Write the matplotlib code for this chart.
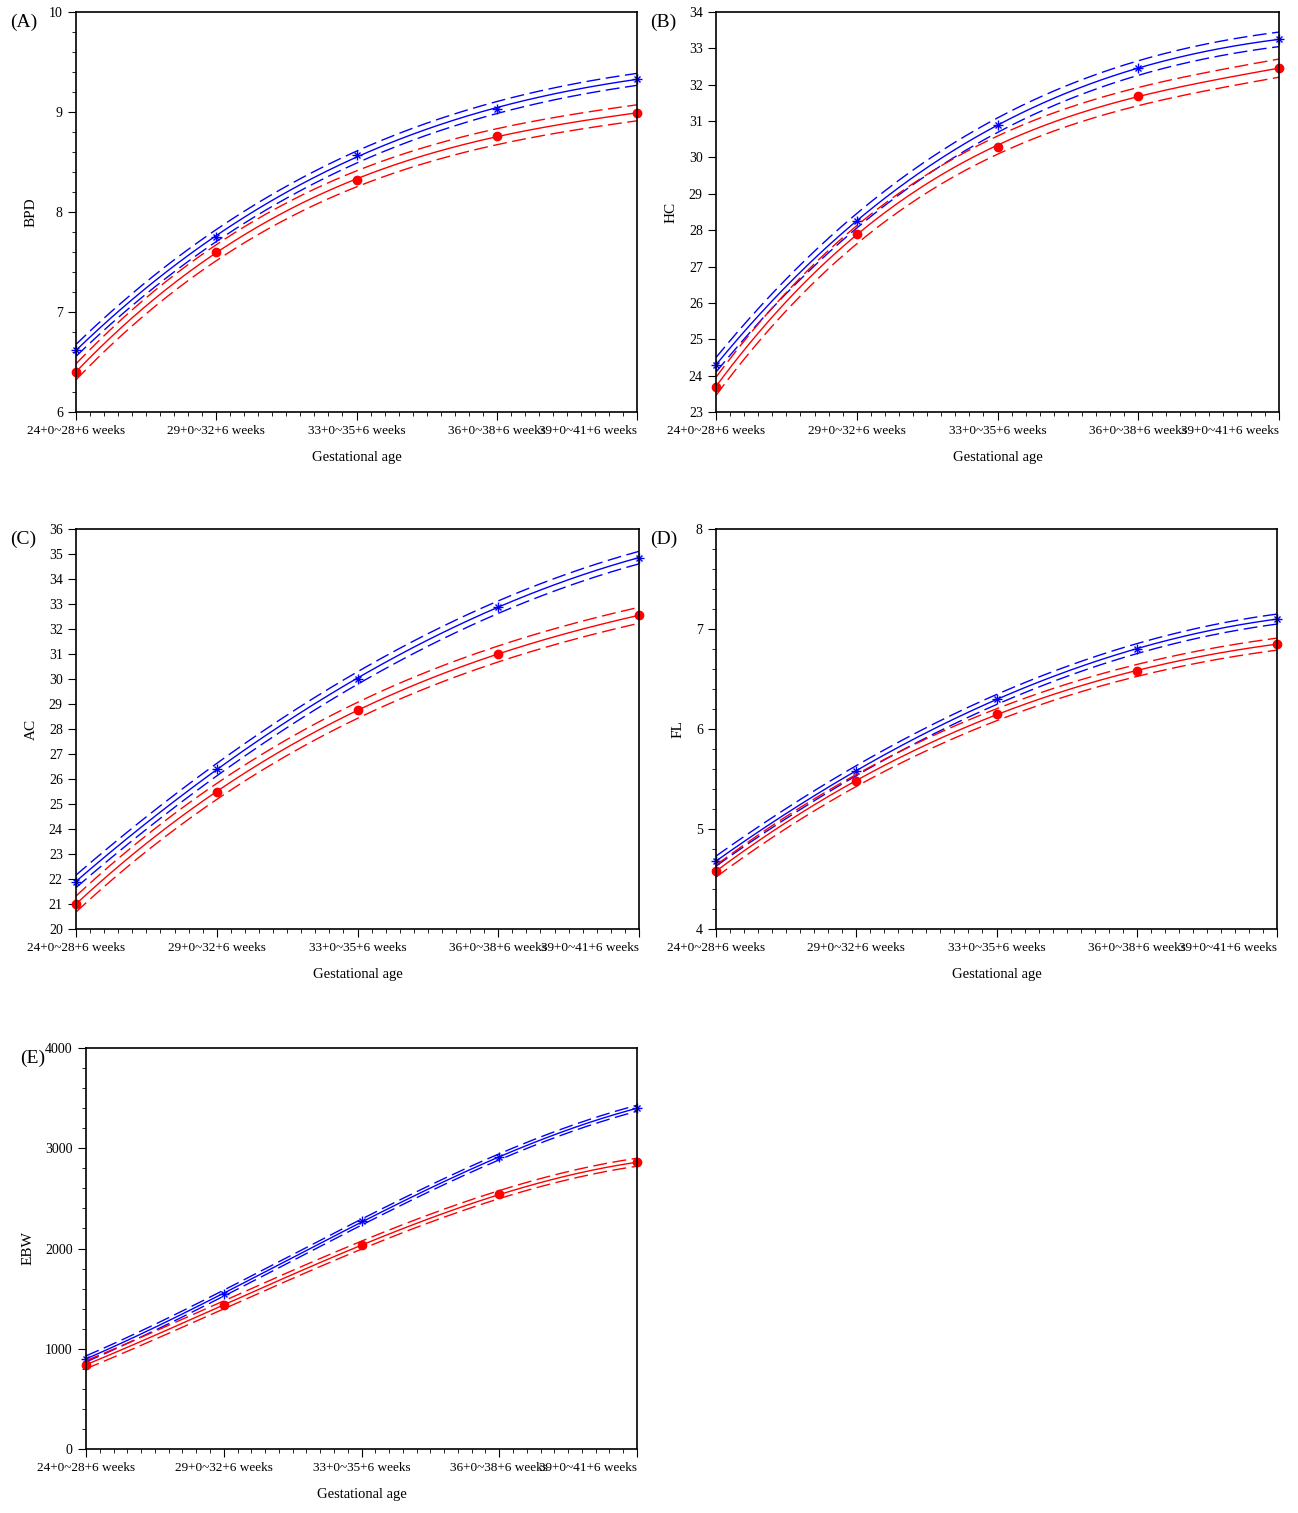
import numpy as np
import matplotlib.pyplot as plt
from matplotlib.ticker import MultipleLocator

plt.rcParams['font.family'] = ['Liberation Serif', 'DejaVu Serif']

ga_labels = ['24+0~28+6 weeks', '29+0~32+6 weeks', '33+0~35+6 weeks',
             '36+0~38+6 weeks', '39+0~41+6 weeks']

bpd_blue = [6.62, 7.75, 8.57, 9.03, 9.33]
bpd_red = [6.40, 7.60, 8.32, 8.76, 8.99]
hc_blue = [24.3, 28.25, 30.9, 32.45, 33.25]
hc_red = [23.7, 27.9, 30.3, 31.7, 32.45]
ac_blue = [21.9, 26.4, 30.0, 32.9, 34.85]
ac_red = [21.0, 25.5, 28.75, 31.0, 32.55]
fl_blue = [4.68, 5.58, 6.30, 6.80, 7.10]
fl_red = [4.58, 5.48, 6.15, 6.58, 6.85]
ebw_blue = [900, 1550, 2270, 2910, 3400]
ebw_red = [840, 1440, 2030, 2540, 2860]

# half widths of the dashed confidence bands
ci = {'BPD': (0.06, 0.08), 'HC': (0.2, 0.25), 'AC': (0.25, 0.32),
      'FL': (0.05, 0.06), 'EBW': (30, 40)}

panels = [
    ('(A)', 'BPD', bpd_blue, bpd_red, (6, 10), 1, 0.2, [76, 12, 637, 412]),
    ('(B)', 'HC', hc_blue, hc_red, (23, 34), 1, None, [716, 12, 1279, 412]),
    ('(C)', 'AC', ac_blue, ac_red, (20, 36), 1, None, [76, 529, 639, 929]),
    ('(D)', 'FL', fl_blue, fl_red, (4, 8), 1, 0.2, [716, 529, 1277, 929]),
    ('(E)', 'EBW', ebw_blue, ebw_red, (0, 4000), 1000, 200, [86, 1048, 637, 1449]),
]

W, H = 1298, 1513
fig = plt.figure(figsize=(W / 100, H / 100), dpi=100)

x = np.arange(5)
xs = np.linspace(0, 4, 200)

for tag, name, blue, red, ylim, major, minor, box in panels:
    l, t, r, b = box
    ax = fig.add_axes([l / W, 1 - b / H, (r - l) / W, (b - t) / H])
    for vals, col, mk, hw in [(blue, 'blue', '+', ci[name][0]),
                              (red, 'red', 'o', ci[name][1])]:
        p = np.polyfit(x, vals, 3)
        y = np.polyval(p, xs)
        ax.plot(xs, y, color=col, lw=1)
        ax.plot(xs, y + hw, color=col, lw=1, dashes=(10, 4))
        ax.plot(xs, y - hw, color=col, lw=1, dashes=(10, 4))
        if mk == '+':
            ax.plot(x, vals, 'x', color=col, ms=5, mew=1, clip_on=False)
            ax.plot(x, vals, '+', color=col, ms=7, mew=1, clip_on=False)
        else:
            ax.plot(x, vals, 'o', color=col, ms=6, clip_on=False)
    ax.set_xlim(0, 4)
    ax.set_ylim(*ylim)
    ax.set_xticks(x)
    ax.set_xticklabels(ga_labels, fontsize=9.5)
    ax.get_xticklabels()[-1].set_horizontalalignment('right')
    ax.get_xticklabels()[-1].set_x(4.04)
    ax.xaxis.set_minor_locator(MultipleLocator(0.1))
    ax.yaxis.set_major_locator(MultipleLocator(major))
    if minor:
        ax.yaxis.set_minor_locator(MultipleLocator(minor))
    ax.tick_params(axis='both', which='major', length=6, labelsize=10)
    ax.tick_params(axis='x', which='major', labelsize=9.5)
    ax.tick_params(axis='both', which='minor', length=3)
    for s in ax.spines.values():
        s.set_linewidth(1.2)
    ax.set_xlabel('Gestational age', fontsize=10.5, labelpad=10)
    ax.set_ylabel(name, fontsize=11, labelpad=8)
    fig.text((l - 66) / W, 1 - (t + 10) / H, tag, fontsize=14, va='center')

fig.savefig('out.png', dpi=100)
